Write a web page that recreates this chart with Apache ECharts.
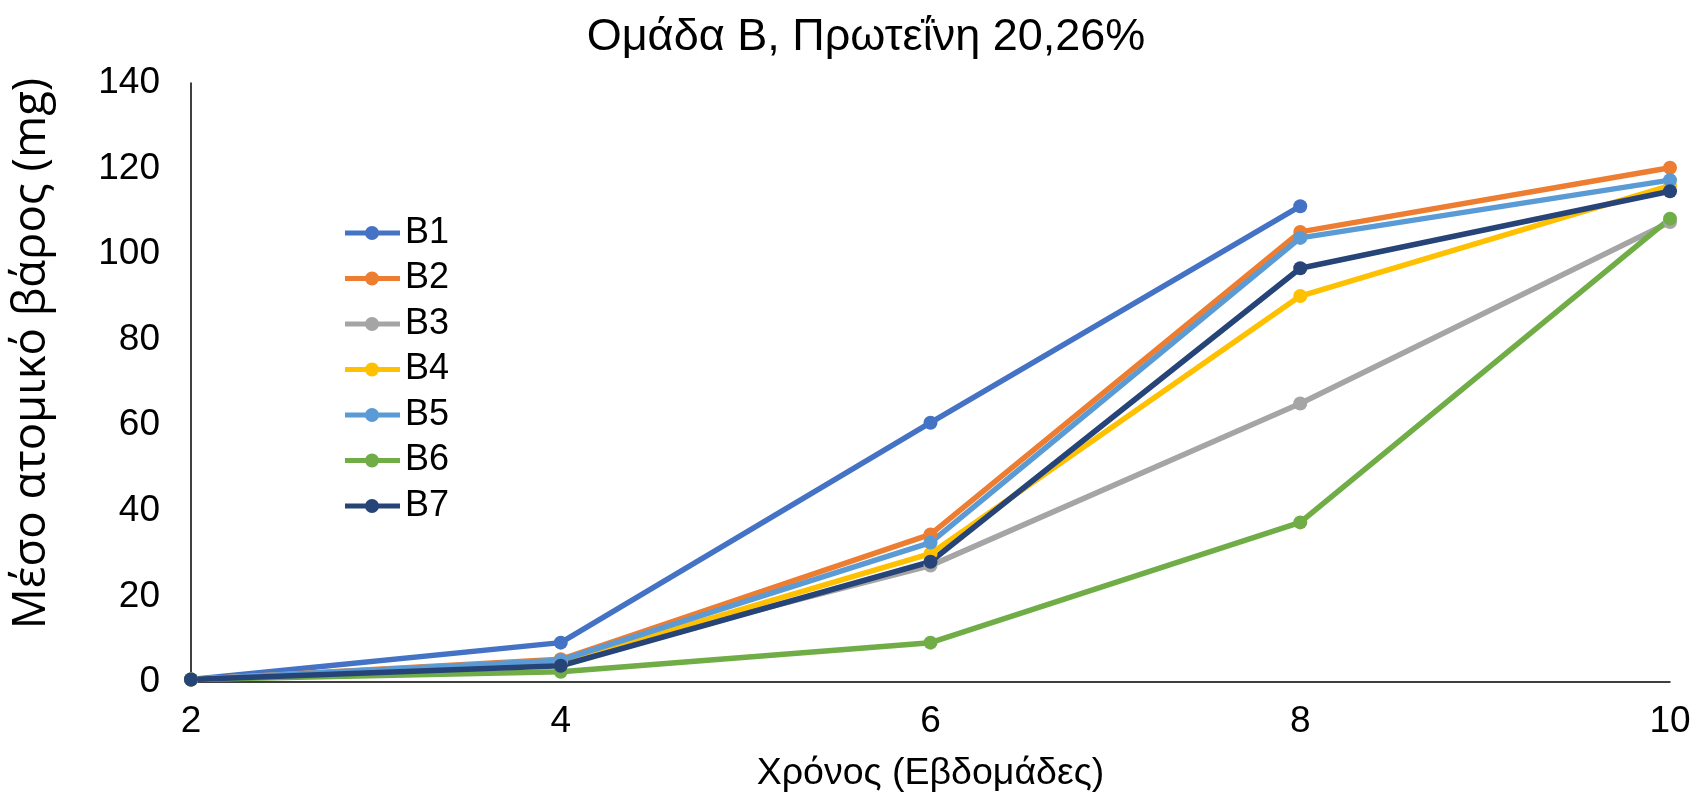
<!DOCTYPE html>
<html>
<head>
<meta charset="utf-8">
<script src="https://cdn.jsdelivr.net/npm/echarts@6/dist/echarts.min.js"></script>
<style>
html,body{margin:0;padding:0;background:#fff;}
#chart{width:1704px;height:794px;}
</style>
</head>
<body>
<div id="chart"></div>
<script>
// Weeks of measurement
const weeks = [2, 4, 6, 8, 10];

// Mean individual weight (mg) per replicate
const B1 = [0.6, 9.2, 60.6, 111.2, null];
const B2 = [0.6, 5.3, 34.5, 105.2, 120.2];
const B3 = [0.6, 5.0, 27.2, 65.1, 107.5];
const B4 = [0.6, 4.5, 30.0, 90.2, 116.0];
const B5 = [0.6, 5.1, 32.6, 103.8, 117.3];
const B6 = [0.6, 2.4, 9.2, 37.3, 108.3];
const B7 = [0.6, 3.8, 28.1, 96.7, 114.7];

const seriesNames = ['B1', 'B2', 'B3', 'B4', 'B5', 'B6', 'B7'];
const seriesData = [B1, B2, B3, B4, B5, B6, B7];
const colors = ['#4472C4', '#ED7D31', '#A5A5A5', '#FFC000', '#5B9BD5', '#70AD47', '#264478'];

const yTicks = [0, 20, 40, 60, 80, 100, 120, 140];
const xTicks = [2, 4, 6, 8, 10];

// Legend key: a thick line segment with a dot in the middle
const legendIcon = 'path://M0,4.5H55V9.5H0Z M20,7A7,7 0 1,1 34,7A7,7 0 1,1 20,7Z';

const chart = echarts.init(document.getElementById('chart'), null, {renderer: 'canvas'});

const series = seriesNames.map((name, i) => ({
  name: name,
  type: 'line',
  data: weeks.map((w, j) => [w, seriesData[i][j]]).filter(p => p[1] !== null),
  symbol: 'circle',
  symbolSize: 14,
  lineStyle: {width: 5.5, color: colors[i]},
  itemStyle: {color: colors[i]},
  emphasis: {disabled: true},
  animation: false
}));

chart.setOption({
  backgroundColor: '#ffffff',
  title: {
    text: 'Ομάδα Β, Πρωτεΐνη 20,26%',
    left: 861,
    top: 10,
    textAlign: 'center',
    textStyle: {fontFamily: 'Liberation Sans', fontSize: 45, fontWeight: 'normal', color: '#000'}
  },
  legend: {
    data: seriesNames,
    icon: legendIcon,
    orient: 'vertical',
    left: 340,
    top: 210,
    itemWidth: 55,
    itemHeight: 14,
    itemGap: 9.5,
    textStyle: {fontFamily: 'Liberation Sans', fontSize: 36, lineHeight: 36, color: '#000'}
  },
  grid: {left: 191, right: 34, top: 83, bottom: 112, containLabel: false, outerBoundsMode: 'none'},
  xAxis: {
    type: 'value',
    min: xTicks[0],
    max: xTicks[xTicks.length - 1],
    interval: 2,
    name: 'Χρόνος (Εβδομάδες)',
    nameLocation: 'middle',
    nameGap: 73,
    nameTextStyle: {fontFamily: 'Liberation Sans', fontSize: 37.5, color: '#000'},
    axisLine: {show: true, lineStyle: {color: '#000', width: 1.5}},
    axisTick: {show: false},
    splitLine: {show: false},
    axisLabel: {fontFamily: 'Liberation Sans', fontSize: 37, color: '#000', margin: 21}
  },
  yAxis: {
    type: 'value',
    min: yTicks[0],
    max: yTicks[yTicks.length - 1],
    interval: 20,
    name: 'Μέσο ατομικό βάρος (mg)',
    nameLocation: 'middle',
    nameGap: 136,
    nameTextStyle: {fontFamily: 'Open Sans', fontSize: 45.5, color: '#000', padding: [0, 0, 0, 58]},
    axisLine: {show: true, lineStyle: {color: '#000', width: 1.5}},
    axisTick: {show: false},
    splitLine: {show: false},
    axisLabel: {fontFamily: 'Liberation Sans', fontSize: 37, color: '#000', margin: 31}
  },
  series: series
});
</script>
</body>
</html>
